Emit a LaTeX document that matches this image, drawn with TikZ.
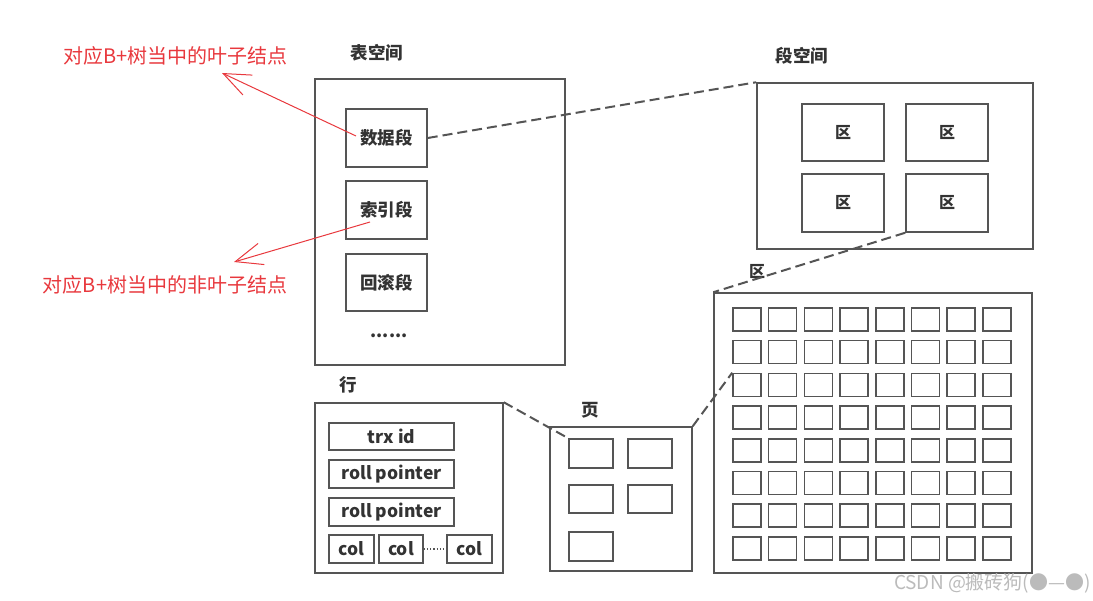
\documentclass[tikz,border=0pt]{standalone}
\usepackage{fontspec}
\setmainfont{Noto Sans CJK SC}
\usetikzlibrary{arrows.meta}
\definecolor{boxgray}{HTML}{555555}
\definecolor{txtgray}{HTML}{333333}
\definecolor{redline}{HTML}{E8383D}
\definecolor{wmgray}{HTML}{BBBBBB}
\begin{document}
\begin{tikzpicture}[x=1pt,y=-1pt,
  box/.style={draw=boxgray,line width=1.5pt,inner sep=0pt,text=txtgray,font=\fontsize{17.5}{20}\selectfont\bfseries},
  cell/.style={draw=boxgray,line width=1.5pt,inner sep=0pt,minimum width=28pt,minimum height=23pt},
  lbl/.style={text=txtgray,font=\fontsize{17.5}{20}\selectfont\bfseries,inner sep=0pt},
  conn/.style={draw=boxgray,line width=2pt,dash pattern=on 10pt off 5pt},
  redtxt/.style={text=redline,font=\fontsize{20}{23}\selectfont,inner sep=0pt},
  redarrow/.style={draw=redline,line width=1pt,-{Straight Barb[length=27pt,width=22pt,line width=1pt]}}]
\useasboundingbox (0,0) rectangle (1093,601);

% table space
\node[lbl] (tsl) at (377,53) {表空间};
\node[box,minimum width=250pt,minimum height=286pt] (T) at (440,222) {};
\node[box,minimum width=81pt,minimum height=58pt] (d1) at (386.5,138) {数据段};
\node[box,minimum width=81pt,minimum height=58pt] (d2) at (386.5,210) {索引段};
\node[box,minimum width=81pt,minimum height=57pt] (d3) at (386.5,282.5) {回滚段};
\node[lbl] (dots) at (389,336) {......};

% segment space
\node[lbl] (ssl) at (802,56) {段空间};
\node[box,minimum width=276pt,minimum height=166pt] (S) at (895,166) {};
\node[box,minimum width=82pt,minimum height=57pt,font=\fontsize{16}{19}\selectfont\bfseries] (e11) at (843,132.5) {区};
\node[box,minimum width=82pt,minimum height=57pt,font=\fontsize{16}{19}\selectfont\bfseries] (e12) at (947,132.5) {区};
\node[box,minimum width=82pt,minimum height=58pt,font=\fontsize{16}{19}\selectfont\bfseries] (e21) at (843,203) {区};
\node[box,minimum width=82pt,minimum height=58pt,font=\fontsize{16}{19}\selectfont\bfseries] (e22) at (947,203) {区};

% extent
\node[lbl,font=\fontsize{16}{19}\selectfont\bfseries] (el) at (757,272) {区};
\node[box,minimum width=318pt,minimum height=280pt] (E) at (873,433) {};
\foreach \i in {0,...,7}{
  \foreach \j in {0,...,7}{
    \node[cell] (g-\j-\i) at ({747+35.7*\i},{319.5+32.7*\j}) {};
  }
}

% row
\node[lbl] (rl) at (348,385) {行};
\node[box,minimum width=188pt,minimum height=170pt] (R) at (409,488) {};
\node[box,minimum width=125pt,minimum height=27pt] (trx) at (391.5,436.5) {trx id};
\node[box,minimum width=125pt,minimum height=28pt] (rp1) at (391.5,474) {roll pointer};
\node[box,minimum width=125pt,minimum height=28pt] (rp2) at (391.5,512) {roll pointer};
\node[box,minimum width=45pt,minimum height=28pt] (c1) at (351.5,549) {col};
\node[box,minimum width=44pt,minimum height=28pt] (c2) at (401,549) {col};
\node[box,minimum width=45pt,minimum height=28pt] (c3) at (469.5,549) {col};
\draw[boxgray,line width=1.2pt,dotted] (c2.east) -- (c3.west);

% page
\node[lbl] (pl) at (590,410) {页};
\node[box,minimum width=142pt,minimum height=144pt] (P) at (621,499) {};
\node[box,minimum width=44pt,minimum height=29pt] (p11) at (591,453.5) {};
\node[box,minimum width=44pt,minimum height=29pt] (p12) at (650,453.5) {};
\node[box,minimum width=44pt,minimum height=28pt] (p21) at (591,499) {};
\node[box,minimum width=44pt,minimum height=28pt] (p22) at (650,499) {};
\node[box,minimum width=44pt,minimum height=29pt] (p31) at (591,546.5) {};

% dashed connectors
\draw[conn] (d1.east) -- (S.north west);
\draw[conn] (e22.south west) -- (E.north west);
\draw[conn] (R.north east) -- (p11.north west);
\draw[conn] (P.north east) -- (g-2-0.north west);

% red annotations
\node[redtxt] (r1) at (175.5,56) {对应B+树当中的叶子结点};
\node[redtxt] (r2) at (165,285) {对应B+树当中的非叶子结点};
\coordinate (a1s) at (356,136);
\coordinate (a1t) at (222,73);
\coordinate (a2s) at (370,222);
\coordinate (a2t) at (234,262);
\draw[redarrow] (a1s) -- (a1t);
\draw[redarrow] (a2s) -- (a2t);

% watermark
\node[text=wmgray,font=\fontsize{19}{22}\selectfont,inner sep=0pt,anchor=east] (wm) at (1091,583) {CSDN @搬砖狗(●—●)};
\end{tikzpicture}
\end{document}
